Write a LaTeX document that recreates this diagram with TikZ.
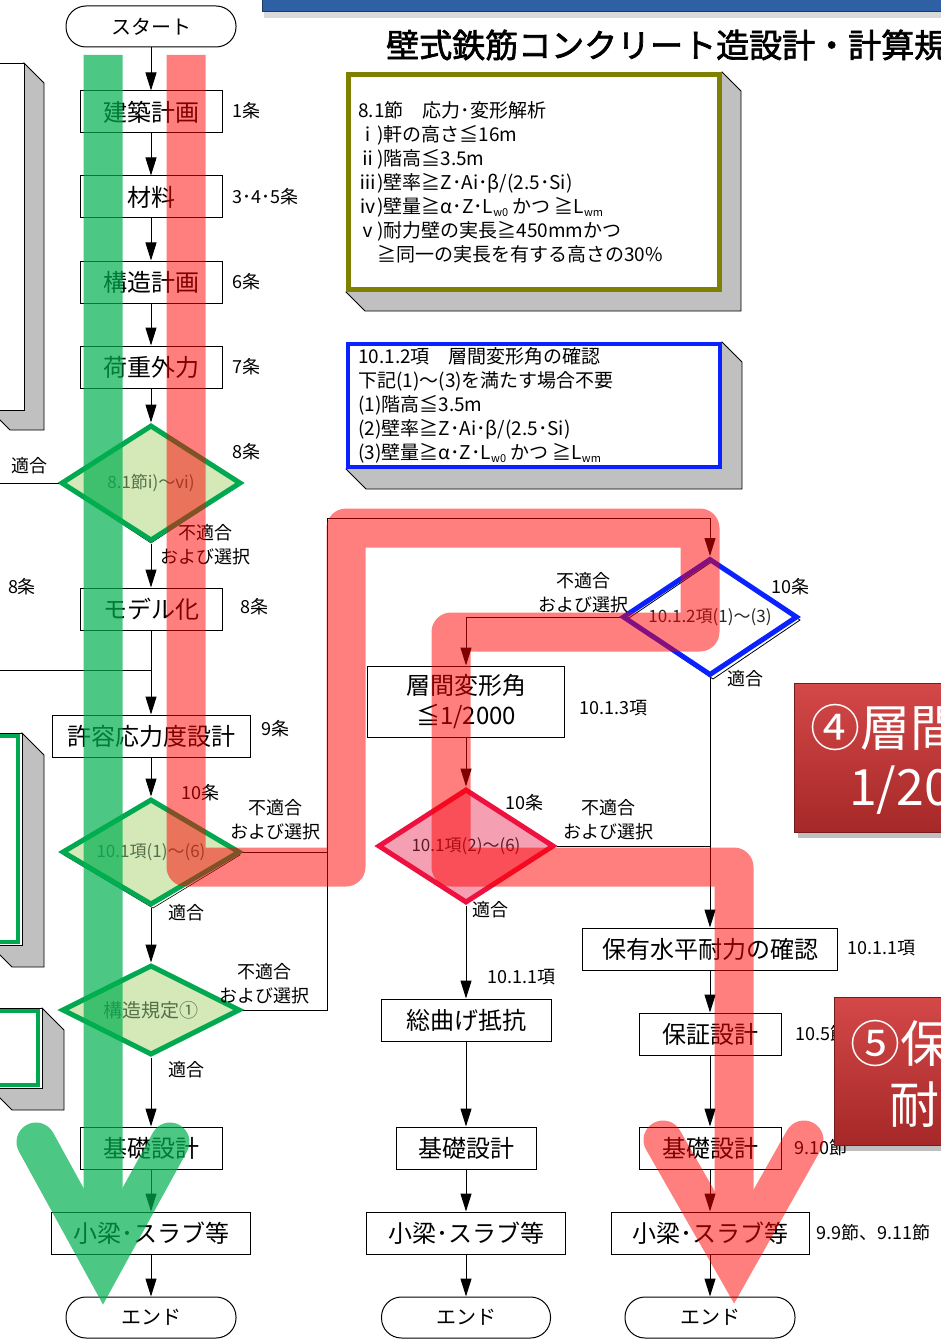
\documentclass[tikz,border=0pt]{standalone}
\usepackage{fontspec}
\setmainfont{Noto Sans CJK JP}
\newfontfamily\titlefont[FakeBold=2]{Noto Sans CJK JP}
\usetikzlibrary{shapes.geometric,arrows.meta}
\definecolor{bandred}{HTML}{FF0000}
\definecolor{bandgreen}{HTML}{00B050}
\definecolor{olivec}{HTML}{808000}
\definecolor{bluec}{HTML}{0A22FF}
\definecolor{dgreen}{HTML}{00A84F}
\definecolor{lgreen}{HTML}{D5E8B8}
\definecolor{crim}{HTML}{EE1140}
\definecolor{pinkf}{HTML}{F5A0B2}
\definecolor{shadeg}{HTML}{C0C0C0}
\definecolor{textg}{HTML}{52704A}
\definecolor{textr}{HTML}{5A1A28}
\definecolor{rtop}{HTML}{D44848}
\definecolor{rbot}{HTML}{A62828}
\definecolor{bannerc}{HTML}{3060A4}
\newcommand\subs[1]{\raisebox{-0.35ex}{\fontsize{11}{11}\selectfont #1}}
\newcommand\fsz[1]{\fontsize{#1}{#1}\selectfont}
\newcommand\tdbox[5]{\filldraw[fill=shadeg,draw=black,line width=0.8pt] (#3,#2) -- ({#3+#5},{#2+#5}) -- ({#3+#5},{#4+#5}) -- ({#1+#5},{#4+#5}) -- (#1,#4) -- cycle;}
\tikzset{
 box/.style={draw=black, line width=1pt, fill=white, minimum width=142pt, minimum height=42pt, inner sep=0pt, font=\fsz{24}},
 term/.style={box, rounded corners=20pt, minimum width=170pt, minimum height=41pt, font=\fsz{20}},
 dia/.style={diamond, aspect=1.6, inner sep=0pt},
 gdia/.style={dia, draw=dgreen, line width=5pt, fill=lgreen, text=textg, font=\fsz{17}},
 lab/.style={font=\fsz{18}, inner sep=0pt, anchor=west},
 clab/.style={font=\fontsize{18}{24}\selectfont, inner sep=0pt, align=center},
 arr/.style={-{Triangle[width=11pt,length=18pt]}, line width=1pt},
 con/.style={line width=1pt},
 band/.style={line width=39pt},
 redtxt/.style={text=white, anchor=west, inner sep=0pt, font=\fsz{50}},
 boxtext/.style={anchor=west, inner sep=0pt, align=left, font=\fontsize{19}{24}\selectfont},
}
\begin{document}
\begin{tikzpicture}[x=1pt,y=-1pt]
\useasboundingbox (0,0) rectangle (941,1340);
\clip (0,0) rectangle (941,1340);
\fill[white] (0,0) rectangle (941,1340);

% banner and title
\fill[black,opacity=0.15] (264,12) rectangle (941,18);
\fill[bannerc] (262,-5) rectangle (941,12);
\draw[bannerc!60!black,line width=1pt] (262,-5) -- (262,12) -- (941,12);
\node[anchor=west,inner sep=0pt,font=\titlefont\fsz{33}] (title) at (386,45) {壁式鉄筋コンクリート造設計・計算規準};

% left partial boxes
\tdbox{-10}{63}{24}{410}{20}
\draw[line width=0.8pt,fill=white] (-10,63) rectangle (24,410);
\tdbox{-10}{733}{22}{945}{22}
\draw[line width=0.8pt,fill=white] (-10,733) rectangle (22,945);
\draw[dgreen,line width=4pt] (-10,736) -- (18,736) -- (18,942) -- (-10,942);
\tdbox{-10}{1008}{42}{1088}{22}
\draw[line width=0.8pt,fill=white] (-10,1008) rectangle (42,1088);
\draw[dgreen,line width=4pt] (-10,1011) -- (38,1011) -- (38,1085) -- (-10,1085);

% olive box
\tdbox{346}{72}{722}{292}{19}
\draw[olivec,line width=5pt,fill=white] (348.5,74.5) rectangle (719.5,289.5);
\node[boxtext] (obox) at (358,182) {%
8.1節　応力･変形解析\\
ⅰ)軒の高さ≦16m\\
ⅱ)階高≦3.5m\\
ⅲ)壁率≧Z･Ai･β/(2.5･Si)\\
ⅳ)壁量≧α･Z･L\subs{w0} かつ ≧L\subs{wm}\\
ⅴ)耐力壁の実長≧450mmかつ\\
\quad≧同一の実長を有する高さの30\%};

% blue box
\tdbox{346}{342}{722}{469}{20}
\draw[bluec,line width=4pt,fill=white] (348,344) rectangle (720,467);
\node[boxtext] (bbox) at (358,405) {%
10.1.2項　層間変形角の確認\\
下記(1)～(3)を満たす場合不要\\
(1)階高≦3.5m\\
(2)壁率≧Z･Ai･β/(2.5･Si)\\
(3)壁量≧α･Z･L\subs{w0} かつ ≧L\subs{wm}};

% column 1
\node[term] (start) at (151,26.5) {スタート};
\node[box] (b1) at (151,112) {建築計画};
\node[box] (b2) at (151,197) {材料};
\node[box] (b3) at (151,282) {構造計画};
\node[box] (b4) at (151,367) {荷重外力};
\draw[line width=0.6pt] (151,428) -- (239,485) -- (151,543) -- (63,485) -- cycle;
\node[gdia, minimum width=180pt, minimum height=116pt] (d1) at (151,483) {8.1節i)～vi)};
\node[box] (b5) at (151,609) {モデル化};
\node[box, minimum width=198pt] (b6) at (151,736) {許容応力度設計};
\draw[line width=0.6pt] (153,802) -- (240,855) -- (153,908) -- (64,855) -- cycle;
\node[gdia, minimum width=178pt, minimum height=106pt] (d2) at (151,852) {10.1項(1)～(6)};
\node[gdia, minimum width=178pt, minimum height=90pt, font=\fsz{19}] (d3) at (151,1010) {構造規定①};
\node[box] (b7) at (151,1148) {基礎設計};
\node[box, minimum width=199pt] (b8) at (151,1233) {小梁･スラブ等};
\node[term] (end1) at (151,1317.5) {エンド};

% column 2
\draw[line width=0.8pt] (713,561) -- (800,620) -- (713,679) -- (626,620) -- cycle;
\node[dia, draw=bluec, line width=5pt, minimum width=175pt, minimum height=117pt, font=\fsz{17}, text=black!85] (d4) at (710,617) {10.1.2項(1)～(3)};
\node[box, minimum width=197pt, minimum height=71pt, align=center, font=\fontsize{24}{30}\selectfont] (b9) at (466,701.5) {層間変形角\\≦1/2000};
\node[dia, draw=crim, line width=5pt, fill=pinkf, text=textr, minimum width=176pt, minimum height=114pt, font=\fsz{17}] (d5) at (466,846) {10.1項(2)～(6)};
\node[box, minimum width=170pt] (b10) at (466,1020) {総曲げ抵抗};
\node[box, minimum width=140pt] (b11) at (466,1148) {基礎設計};
\node[box, minimum width=199pt] (b12) at (466,1233) {小梁･スラブ等};
\node[term, minimum width=169pt] (end2) at (466,1317.5) {エンド};

% column 3
\node[box, minimum width=255pt] (b13) at (710,949) {保有水平耐力の確認};
\node[box] (b14) at (710,1034) {保証設計};
\node[box] (b15) at (710,1148) {基礎設計};
\node[box, minimum width=198pt] (b16) at (710,1233) {小梁･スラブ等};
\node[term] (end3) at (710,1317.5) {エンド};

% coordinates
\coordinate (lw1) at (0,483);
\coordinate (lw2) at (0,670);
\coordinate (m1) at (151,670);
\coordinate (j1) at (327,852);
\coordinate (j3) at (710,518);
\coordinate (j4) at (710,846);

% connectors column 1
\draw[arr] (start) -- (b1);
\draw[arr] (b1) -- (b2);
\draw[arr] (b2) -- (b3);
\draw[arr] (b3) -- (b4);
\draw[arr] (b4) -- (d1);
\draw[arr] (d1) -- (b5);
\draw[arr] (b5) -- (b6);
\draw[arr] (b6) -- (d2);
\draw[arr] (d2) -- (d3);
\draw[arr] (d3) -- (b7);
\draw[arr] (b7) -- (b8);
\draw[arr] (b8) -- (end1);
\draw[con] (d1.west) -- (lw1);
\draw[con] (lw2) -- (m1);
\draw[con] (d2.east) -- (j1);
\draw[con] (d3.east) -| (j1);
\draw[arr] (j1) |- (j3) -- (d4.north);
% connectors column 2
\draw[arr] (d4.west) -| (b9.north);
\draw[arr] (b9) -- (d5);
\draw[con] (d5.east) -- (j4);
\draw[arr] (d5) -- (b10);
\draw[arr] (b10) -- (b11);
\draw[arr] (b11) -- (b12);
\draw[arr] (b12) -- (end2);
% connectors column 3
\draw[arr] (d4.south) -- (b13);
\draw[arr] (b13) -- (b14);
\draw[arr] (b14) -- (b15);
\draw[arr] (b15) -- (b16);
\draw[arr] (b16) -- (end3);

% labels
\node[lab] (l1) at (232,111) {1条};
\node[lab] (l2) at (232,197) {3･4･5条};
\node[lab] (l3) at (232,282) {6条};
\node[lab] (l4) at (232,367) {7条};
\node[lab] (l5) at (232,452) {8条};
\node[clab] (l6) at (30,466) {適合};
\node[clab] (l7) at (205,545) {不適合\\および選択};
\node[clab] (l8) at (22,587) {8条};
\node[lab] (l9) at (240,607) {8条};
\node[lab] (l10) at (261,729) {9条};
\node[lab] (l11) at (181,793) {10条};
\node[clab] (l12) at (275,820) {不適合\\および選択};
\node[clab] (l13) at (186,913) {適合};
\node[clab] (l14) at (264,984) {不適合\\および選択};
\node[clab] (l15) at (186,1070) {適合};
\node[lab] (l16) at (771,587) {10条};
\node[clab] (l17) at (583,593) {不適合\\および選択};
\node[clab] (l18) at (745,679) {適合};
\node[lab] (l19) at (579,708) {10.1.3項};
\node[lab] (l20) at (505,803) {10条};
\node[clab] (l21) at (608,820) {不適合\\および選択};
\node[clab] (l22) at (490,910) {適合};
\node[lab] (l23) at (487,977) {10.1.1項};
\node[lab] (l24) at (847,948) {10.1.1項};
\node[lab] (l25) at (795,1034) {10.5節};
\node[lab] (l26) at (794,1148) {9.10節};
\node[lab] (l27) at (816,1233) {9.9節、9.11節};

% translucent bands
\begin{scope}[transparency group, opacity=0.5]
\draw[bandred, band, line join=round] (186,55) -- (186,867) -- (346,867) -- (346,528) -- (700,528) -- (700,632) -- (451,632) -- (451,867) -- (734,867) -- (734,1262);
\draw[bandred, band, line join=miter, line cap=round] (663,1140) -- (734,1264) -- (804,1140);
\end{scope}
\begin{scope}[transparency group, opacity=0.7]
\draw[bandgreen, band] (103,55) -- (103,1262);
\draw[bandgreen, band, line join=miter, line cap=round] (36,1142) -- (103,1264) -- (170,1142);
\end{scope}

% red callout boxes
\fill[black,opacity=0.25] (798,688) rectangle (950,838);
\shade[top color=rtop, bottom color=rbot, draw=rbot!70!black, line width=0.8pt] (794,683) rectangle (950,832);
\node[redtxt] (r4a) at (810,727) {④層間};
\node[redtxt] (r4b) at (849,790) {1/20};
\fill[black,opacity=0.25] (838,1002) rectangle (950,1151);
\shade[top color=rtop, bottom color=rbot, draw=rbot!70!black, line width=0.8pt] (834,997) rectangle (950,1145);
\node[redtxt] (r5a) at (850,1043) {⑤保};
\node[redtxt] (r5b) at (889,1105) {耐};
\end{tikzpicture}
\end{document}
